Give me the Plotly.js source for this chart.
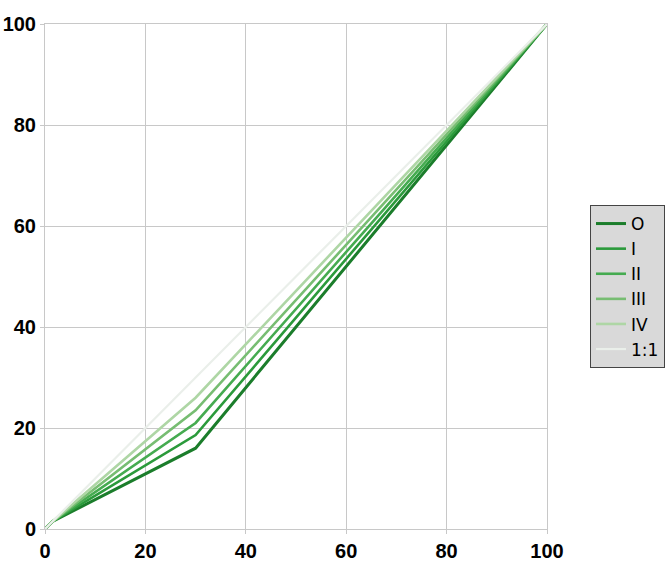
<!DOCTYPE html>
<html>
<head>
<meta charset="utf-8">
<script src="https://cdn.plot.ly/plotly-3.0.1.min.js"></script>
<style>html,body{margin:0;padding:0;background:#fff;}#chart{width:668px;height:572px;}</style>
</head>
<body>
<div id="chart"></div>
<script>
var xValues = [0, 1.5, 30, 100];
var seriesNames = ["O", "I", "II", "III", "IV", "1:1"];
var seriesO = [0, 1.5, 16, 100];
var seriesI = [0, 1.5, 18.6, 100];
var seriesII = [0, 1.5, 21, 100];
var seriesIII = [0, 1.5, 23.5, 100];
var seriesIV = [0, 1.5, 26, 100];
var seriesOneToOne = [0, 1.5, 30, 100];
var tickValues = [0, 20, 40, 60, 80, 100];

var allSeries = [seriesO, seriesI, seriesII, seriesIII, seriesIV, seriesOneToOne];
var colors = ["#1b7d2b", "#2b9a3b", "#45ab50", "#77bd72", "#aed6a5", "#eaefea"];
var widths = [3, 2.6, 2.6, 2.6, 2.6, 2.2];

var traces = allSeries.map(function (ys, i) {
  return {
    x: xValues, y: ys, name: seriesNames[i], type: "scatter", mode: "lines",
    line: {color: colors[i], width: widths[i]}
  };
});

var axisCommon = {
  range: [0, 100], tickvals: tickValues, showgrid: true, gridcolor: "#c8c8c8", gridwidth: 1,
  zeroline: false, showline: true, linecolor: "#c8c8c8", linewidth: 1, mirror: true,
  ticks: "outside", ticklen: 4, tickcolor: "#c8c8c8",
  tickfont: {family: "Liberation Sans Narrow, Arial Narrow, sans-serif", size: 20, color: "#000", weight: "bold"}
};

var layout = {
  width: 668, height: 572,
  margin: {l: 45, r: 121, t: 24, b: 43},
  paper_bgcolor: "#fff", plot_bgcolor: "#fff",
  xaxis: Object.assign({}, axisCommon),
  yaxis: Object.assign({}, axisCommon),
  showlegend: true,
  legend: {
    xref: "container", yref: "container",
    x: 590 / 668, y: 1 - 205 / 572, xanchor: "left", yanchor: "top",
    bgcolor: "#d9d9d9", bordercolor: "#444", borderwidth: 1,
    font: {family: "DejaVu Sans, sans-serif", size: 17, color: "#000"},
    tracegroupgap: 0, itemwidth: 30
  }
};

Plotly.newPlot("chart", traces, layout, {displayModeBar: false, staticPlot: true});
</script>
</body>
</html>
